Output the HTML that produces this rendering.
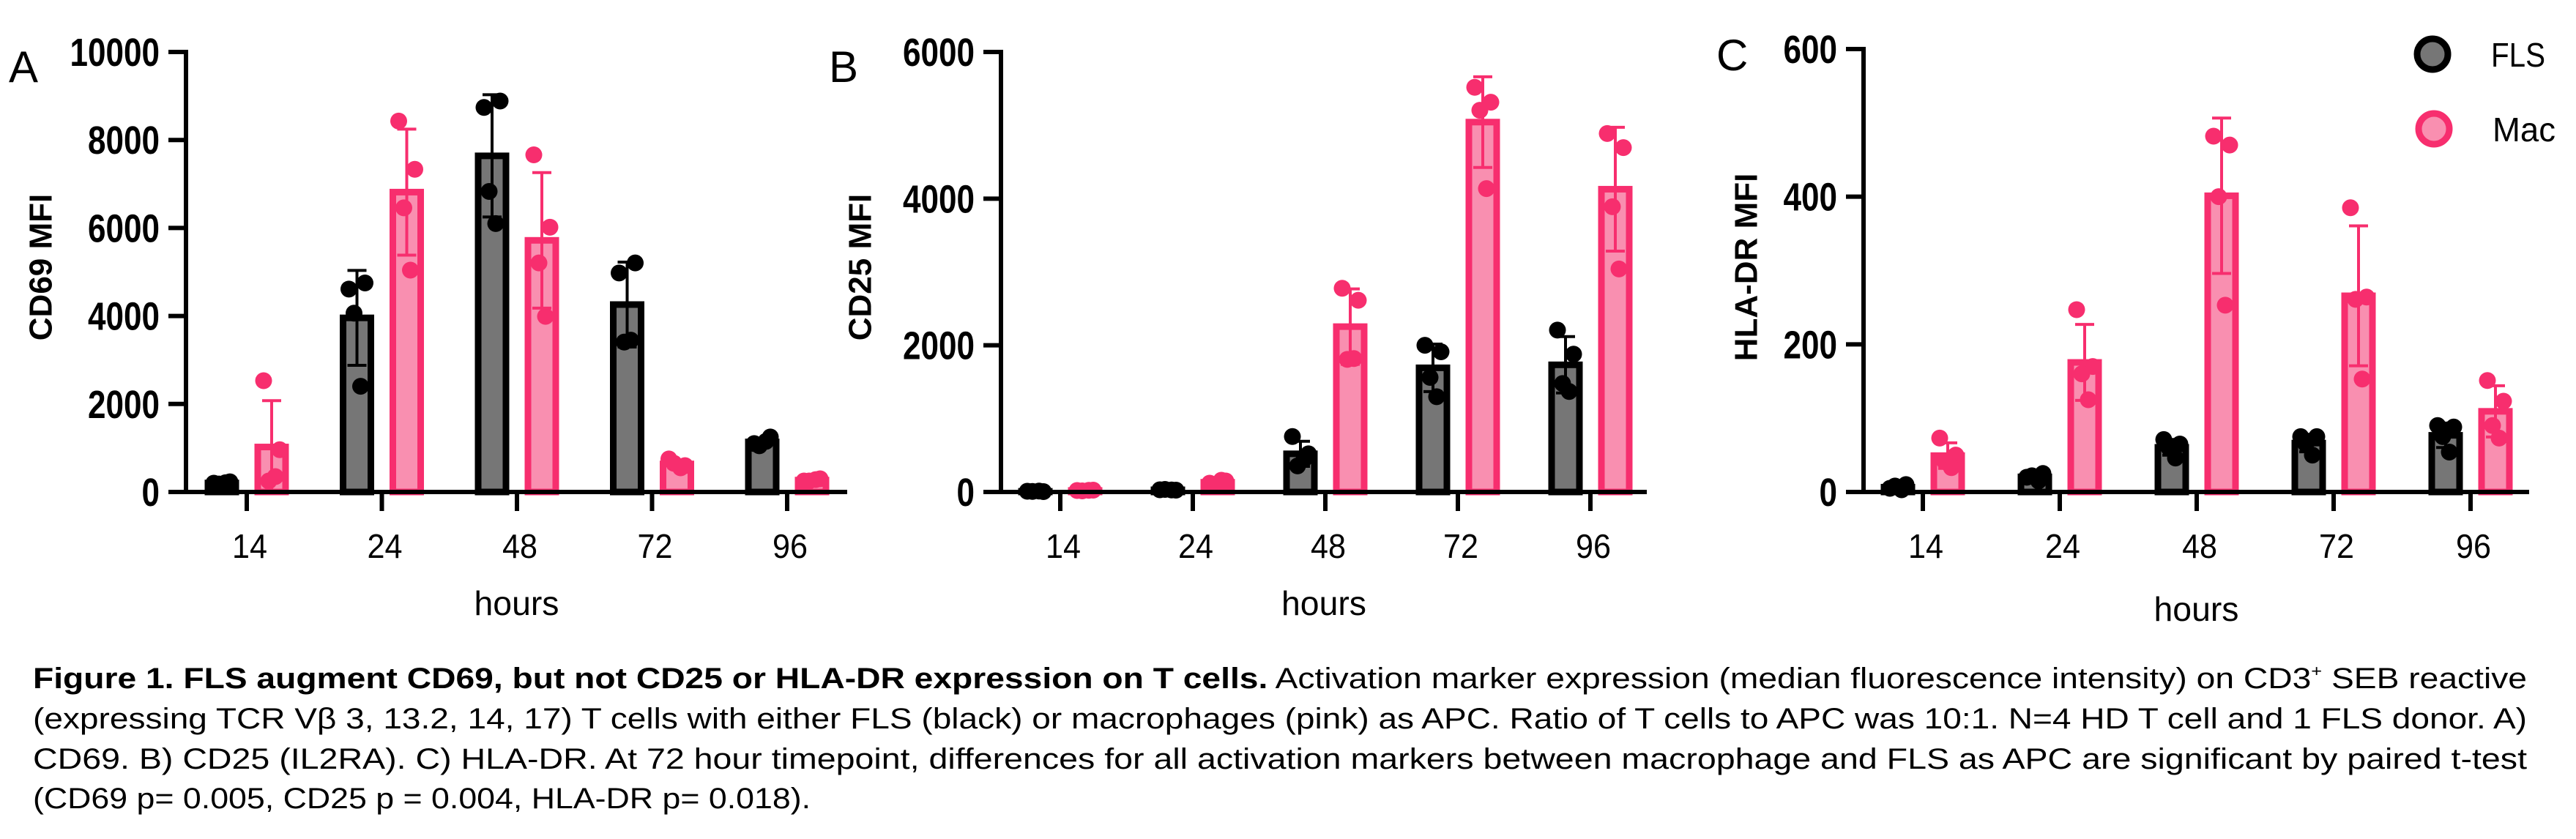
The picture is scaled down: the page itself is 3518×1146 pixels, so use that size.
<!DOCTYPE html>
<html><head><meta charset="utf-8">
<style>
html,body{margin:0;padding:0;background:#fff;}
svg{display:block;}
</style></head>
<body>
<svg id="fig" width="3518" height="1146" viewBox="0 0 3518 1146" xmlns="http://www.w3.org/2000/svg" font-family="'Liberation Sans', Arial, sans-serif">
  <g id="panels"></g>
  <g id="legend">
    <circle cx="3322" cy="74" r="21" fill="#767676" stroke="#000" stroke-width="9"/>
    <text x="3402" y="91" font-size="46" textLength="74" lengthAdjust="spacingAndGlyphs">FLS</text>
    <circle cx="3324" cy="176" r="21" fill="#f98fb0" stroke="#f72e6e" stroke-width="9"/>
    <text x="3404" y="193" font-size="46" textLength="86" lengthAdjust="spacingAndGlyphs">Mac</text>
  </g>
  <g id="caption" font-size="40">
    <text x="45" y="940" textLength="3406" lengthAdjust="spacingAndGlyphs"><tspan font-weight="bold">Figure 1. FLS augment CD69, but not CD25 or HLA-DR expression on T cells.</tspan> Activation marker expression (median fluorescence intensity) on CD3<tspan font-size="22" dy="-16">+</tspan><tspan dy="16"> SEB reactive</tspan></text>
    <text x="45" y="995" textLength="3406" lengthAdjust="spacingAndGlyphs">(expressing TCR Vβ 3, 13.2, 14, 17) T cells with either FLS (black) or macrophages (pink) as APC. Ratio of T cells to APC was 10:1. N=4 HD T cell and 1 FLS donor.  A)</text>
    <text x="45" y="1050" textLength="3406" lengthAdjust="spacingAndGlyphs">CD69. B) CD25 (IL2RA). C) HLA-DR. At 72 hour timepoint, differences for all activation markers between macrophage and FLS as APC are significant by paired t-test</text>
    <text x="45" y="1104" textLength="1062" lengthAdjust="spacingAndGlyphs">(CD69 p= 0.005, CD25 p = 0.004, HLA-DR p= 0.018).</text>
  </g>
</svg>
<script>
const categories = ['14', '24', '48', '72', '96'];
const cd69FLS = [[200, 230, 180, 210], [4612, 4750, 4064, 2402], [8740, 8886, 6831, 6100], [4977, 5205, 3406, 3450], [1100, 1250, 1050, 1150]];
const cd69Mac = [[2530, 960, 250, 350], [8429, 7333, 6457, 5041], [7662, 6018, 5205, 3991], [750, 600, 650, 550], [250, 300, 250, 280]];
const cd25FLS = [[10, 5, 8, 12], [30, 25, 35, 28], [756, 520, 356, 450], [2000, 1912, 1562, 1299], [2208, 1879, 1479, 1370]];
const cd25Mac = [[20, 25, 15, 22], [120, 150, 100, 160], [2778, 2614, 1808, 1819], [5518, 5315, 5205, 4137], [4888, 4696, 3890, 3041]];
const hlaFLS = [[5, 10, 8, 3], [20, 25, 22, 15], [71, 65, 60, 46], [75, 75, 65, 50], [90, 88, 75, 54]];
const hlaMac = [[73, 50, 41, 33], [247, 170, 160, 125], [482, 470, 400, 253], [385, 264, 261, 153], [151, 123, 90, 73]];
const cd69Ticks = [0, 2000, 4000, 6000, 8000, 10000];
const cd25Ticks = [0, 2000, 4000, 6000];
const hlaTicks = [0, 200, 400, 600];

const NS = 'http://www.w3.org/2000/svg';
function mk(tag, attrs, parent) {
  const e = document.createElementNS(NS, tag);
  for (const k in attrs) e.setAttribute(k, attrs[k]);
  parent.appendChild(e);
  return e;
}
function mean(a) { return a.reduce((s, v) => s + v, 0) / a.length; }
function sd(a) { const m = mean(a); return Math.sqrt(a.reduce((s, v) => s + (v - m) * (v - m), 0) / (a.length - 1)); }

const panels = [
  {key: 'cd69', letter: 'A', title: 'CD69 MFI', fls: cd69FLS, mac: cd69Mac, ticks: cd69Ticks,
   ax: 254, y0: 672, yTop: 71, xEnd: 1157, first: 337, gap: 184.5, lx: 12, ly: 112, tx: 56, hy: 840},
  {key: 'cd25', letter: 'B', title: 'CD25 MFI', fls: cd25FLS, mac: cd25Mac, ticks: cd25Ticks,
   ax: 1367, y0: 672, yTop: 71, xEnd: 2249, first: 1448, gap: 181, lx: 1132, ly: 112, tx: 1175, hy: 840},
  {key: 'hla-dr', letter: 'C', title: 'HLA-DR MFI', fls: hlaFLS, mac: hlaMac, ticks: hlaTicks,
   ax: 2545, y0: 672, yTop: 67, xEnd: 3454, first: 2626, gap: 187, lx: 2344, ly: 96, tx: 2385, hy: 848}
];
const jitter = [-11, 11, -4, 5];
const root = document.getElementById('panels');

panels.forEach(p => {
  const g = mk('g', {}, root);
  
  
  const maxV = p.ticks[p.ticks.length - 1];
  const yS = v => p.y0 - (v / maxV) * (p.y0 - p.yTop);
  const xS = i => p.first + i * p.gap;

  const lt = mk('text', {x: p.lx, y: p.ly, 'font-size': 60}, g);
  lt.textContent = p.letter;
  
  

  const yt = mk('text', {x: p.tx, y: 365, 'font-size': 44, 'font-weight': 'bold', 'text-anchor': 'middle', 'dominant-baseline': 'central', transform: 'rotate(-90 ' + p.tx + ' 365)'}, g);
  yt.textContent = p.title;
  
  

  const series = [
    {name: 'fls', data: p.fls, off: -34, fill: '#767676', stroke: '#000000'},
    {name: 'mac', data: p.mac, off: 34, fill: '#f98fb0', stroke: '#f72e6e'}
  ];
  series.forEach(s => {
    s.data.forEach((pts, i) => {
      const m = mean(pts), d = sd(pts);
      const cx = xS(i) + s.off;
      const r = mk('rect', {x: cx - 19, y: yS(m), width: 38, height: Math.max(0, p.y0 - yS(m)), fill: s.fill, stroke: s.stroke, 'stroke-width': 9}, g);
      
      
      const eg = mk('g', {stroke: s.stroke, 'stroke-width': 4}, g);
      
      
      const lo = Math.max(0, m - d), hi = m + d;
      mk('line', {x1: cx, x2: cx, y1: yS(lo), y2: yS(hi)}, eg);
      mk('line', {x1: cx - 13, x2: cx + 13, y1: yS(hi), y2: yS(hi)}, eg);
      mk('line', {x1: cx - 13, x2: cx + 13, y1: yS(lo), y2: yS(lo)}, eg);
      pts.forEach((v, j) => {
        const c = mk('circle', {cx: cx + jitter[j], cy: yS(v), r: 11.5, fill: s.stroke}, g);
        
        
      });
    });
  });

  const axg = mk('g', {stroke: '#000', 'stroke-width': 6, fill: 'none'}, g);
  
  
  mk('line', {x1: p.ax, x2: p.ax, y1: p.yTop - 3, y2: p.y0 + 3}, axg);
  mk('line', {x1: p.ax - 3, x2: p.xEnd, y1: p.y0, y2: p.y0}, axg);
  p.ticks.forEach(t => {
    mk('line', {x1: p.ax - 24, x2: p.ax, y1: yS(t), y2: yS(t)}, axg);
    const tl = mk('text', {x: p.ax - 36, y: yS(t) + 19, 'font-size': 54, 'font-weight': 'bold', 'text-anchor': 'end', textLength: String(t).length * 24.5, lengthAdjust: 'spacingAndGlyphs'}, g);
    tl.textContent = String(t);
    
    
  });
  categories.forEach((c, i) => {
    mk('line', {x1: xS(i), x2: xS(i), y1: p.y0, y2: p.y0 + 26}, axg);
    const xl = mk('text', {x: xS(i) + 4, y: 762, 'font-size': 46, 'text-anchor': 'middle', textLength: 48, lengthAdjust: 'spacingAndGlyphs'}, g);
    xl.textContent = c;
    
    
  });
  const ht = mk('text', {x: (p.ax + p.xEnd) / 2, y: p.hy, 'font-size': 46, 'text-anchor': 'middle', textLength: 116, lengthAdjust: 'spacingAndGlyphs'}, g);
  ht.textContent = 'hours';
  
  
});
</script>
</body></html>
